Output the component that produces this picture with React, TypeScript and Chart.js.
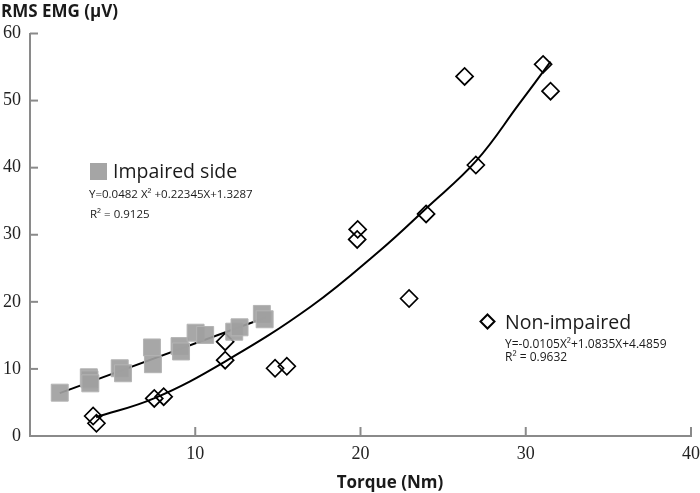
import React, { useEffect, useRef } from "react";
import { Chart, registerables } from "chart.js";

Chart.register(...registerables);

// Impaired side (grey squares)
const impairedX = [1.8, 3.56, 3.6, 3.65, 5.43, 5.63, 7.38, 7.44, 9.05, 9.14, 10.02, 10.6, 12.36, 12.68, 14.03, 14.2];
const impairedY = [6.46, 8.75, 8.45, 7.85, 10.1, 9.35, 13.2, 10.7, 13.4, 12.6, 15.4, 15.06, 15.55, 16.2, 18.2, 17.4];

// Non-impaired (open diamonds)
const nonImpX = [3.82, 4.02, 7.52, 8.09, 11.81, 11.81, 14.83, 15.54, 19.83, 19.8, 22.94, 23.97, 26.98, 26.3, 31.05, 31.5];
const nonImpY = [2.98, 1.9, 5.6, 5.86, 14.06, 11.3, 10.1, 10.4, 30.8, 29.3, 20.5, 33.1, 40.4, 53.6, 55.4, 51.4];

// Trend lines
const impTrendX = [1.8, 14.3];
const impTrendY = [6.4, 17.7];
const nonTrendX = [4.0, 7.5, 11.8, 17.0, 21.2, 24.0, 27.0, 29.6, 31.5];
const nonTrendY = [2.8, 5.6, 11.1, 19.3, 27.7, 34.0, 41.0, 49.5, 55.8];

const xTicks = [10, 20, 30, 40];
const yTicks = [0, 10, 20, 30, 40, 50, 60];

const yTitle = "RMS EMG (\u03bcV)";
const xTitle = "Torque (Nm)";
const impLabel = "Impaired side";
const impEq = "Y=0.0482 X\u00b2 +0.22345X+1.3287";
const impR2 = "R\u00b2 = 0.9125";
const nonLabel = "Non-impaired";
const nonEq = "Y=-0.0105X\u00b2+1.0835X+4.4859";
const nonR2 = "R\u00b2 = 0.9632";

const zip = (xs: number[], ys: number[]) => xs.map((x, i) => ({ x, y: ys[i] }));

const AXIS_COLOR = "#8a8a8a";

const decorPlugin = {
  id: "decor",
  afterDraw(chart: any) {
    const ctx = chart.ctx;
    const xs = chart.scales.x;
    const ys = chart.scales.y;
    const area = chart.chartArea;
    ctx.save();
    // inward tick marks
    ctx.strokeStyle = AXIS_COLOR;
    ctx.lineWidth = 2;
    xTicks.forEach((v) => {
      const px = xs.getPixelForValue(v);
      ctx.beginPath();
      ctx.moveTo(px, area.bottom);
      ctx.lineTo(px, area.bottom - 9);
      ctx.stroke();
    });
    yTicks.forEach((v) => {
      if (v === 0) return;
      const py = ys.getPixelForValue(v);
      ctx.beginPath();
      ctx.moveTo(area.left, py);
      ctx.lineTo(area.left + 8, py);
      ctx.stroke();
    });

    // axis titles
    ctx.fillStyle = "#1a1a1a";
    ctx.textBaseline = "alphabetic";
    ctx.textAlign = "left";
    ctx.font = "bold 17px 'Open Sans'";
    ctx.fillText(yTitle, 1, 17);
    ctx.textAlign = "center";
    ctx.fillText(xTitle, 390, 488);

    // Impaired legend
    ctx.textAlign = "left";
    ctx.fillStyle = "#a5a5a5";
    ctx.fillRect(90, 163, 17, 17);
    ctx.fillStyle = "#1a1a1a";
    ctx.font = "19.5px 'Open Sans'";
    ctx.fillText(impLabel, 113, 178);
    ctx.font = "11.5px 'Open Sans'";
    ctx.textBaseline = "middle";
    ctx.fillText(impEq, 89, 195);
    ctx.fillText(impR2, 90, 215);

    // Non-impaired legend
    ctx.strokeStyle = "#000";
    ctx.lineWidth = 2;
    const cx = 487.5, cy = 321.5, r = 7;
    ctx.beginPath();
    ctx.moveTo(cx, cy - r);
    ctx.lineTo(cx + r, cy);
    ctx.lineTo(cx, cy + r);
    ctx.lineTo(cx - r, cy);
    ctx.closePath();
    ctx.stroke();
    ctx.textBaseline = "alphabetic";
    ctx.font = "19.5px 'Open Sans'";
    ctx.fillText(nonLabel, 505, 329);
    ctx.font = "12px 'Open Sans'";
    ctx.textBaseline = "middle";
    ctx.fillText(nonEq, 505, 345);
    ctx.fillText(nonR2, 505, 358);
    ctx.restore();
  },
};

export default function App() {
  const ref = useRef<HTMLCanvasElement | null>(null);
  useEffect(() => {
    if (!ref.current) return;
    const chart = new Chart(ref.current, {
      type: "scatter",
      data: {
        datasets: [
          {
            label: "Impaired side",
            data: zip(impairedX, impairedY),
            pointStyle: "rect",
            pointRadius: 12,
            backgroundColor: "rgba(160,160,160,0.92)",
            borderColor: "#b4b4b4",
            borderWidth: 1,
            showLine: false,
          },
          {
            label: "Non-impaired",
            data: zip(nonImpX, nonImpY),
            pointStyle: "rectRot",
            pointRadius: 8.5,
            backgroundColor: "rgba(0,0,0,0)",
            borderColor: "#000",
            borderWidth: 1.7,
            showLine: false,
          },
          {
            label: "Impaired fit",
            data: zip(impTrendX, impTrendY),
            showLine: true,
            pointRadius: 0,
            borderColor: "#000",
            borderWidth: 2,
          },
          {
            label: "Non-impaired fit",
            data: zip(nonTrendX, nonTrendY),
            showLine: true,
            pointRadius: 0,
            borderColor: "#000",
            borderWidth: 2,
            tension: 0.4,
          } as any,
        ],
      },
      options: {
        animation: false,
        responsive: false,
        devicePixelRatio: 1,
        layout: { padding: { top: 33.5, right: 3, left: 0, bottom: 0 } },
        plugins: { legend: { display: false }, tooltip: { enabled: false } },
        scales: {
          x: {
            type: "linear",
            min: 0,
            max: 40,
            afterFit: (s: any) => { s.height = 57; },
            afterBuildTicks: (s: any) => { s.ticks = xTicks.map((v) => ({ value: v })); },
            grid: { display: true, drawOnChartArea: false, drawTicks: false },
            border: { display: true, color: AXIS_COLOR, width: 2 },
            ticks: {
              padding: 7,
              color: "#222",
              font: { family: "'Liberation Serif'", size: 18 },
            },
          },
          y: {
            type: "linear",
            min: 0,
            max: 60,
            afterFit: (s: any) => { s.width = 30; },
            afterBuildTicks: (s: any) => { s.ticks = yTicks.map((v) => ({ value: v })); },
            grid: { display: true, drawOnChartArea: false, drawTicks: false },
            border: { display: true, color: AXIS_COLOR, width: 2 },
            ticks: {
              padding: 9,
              color: "#222",
              font: { family: "'Liberation Serif'", size: 18 },
            },
          },
        },
      },
      plugins: [decorPlugin],
    });
    return () => chart.destroy();
  }, []);
  return (
    <div style={{ position: "absolute", left: 0, top: 0, width: 700, height: 493, overflow: "hidden" }}>
      <canvas ref={ref} width={707} height={493} style={{ display: "block" }} />
    </div>
  );
}
